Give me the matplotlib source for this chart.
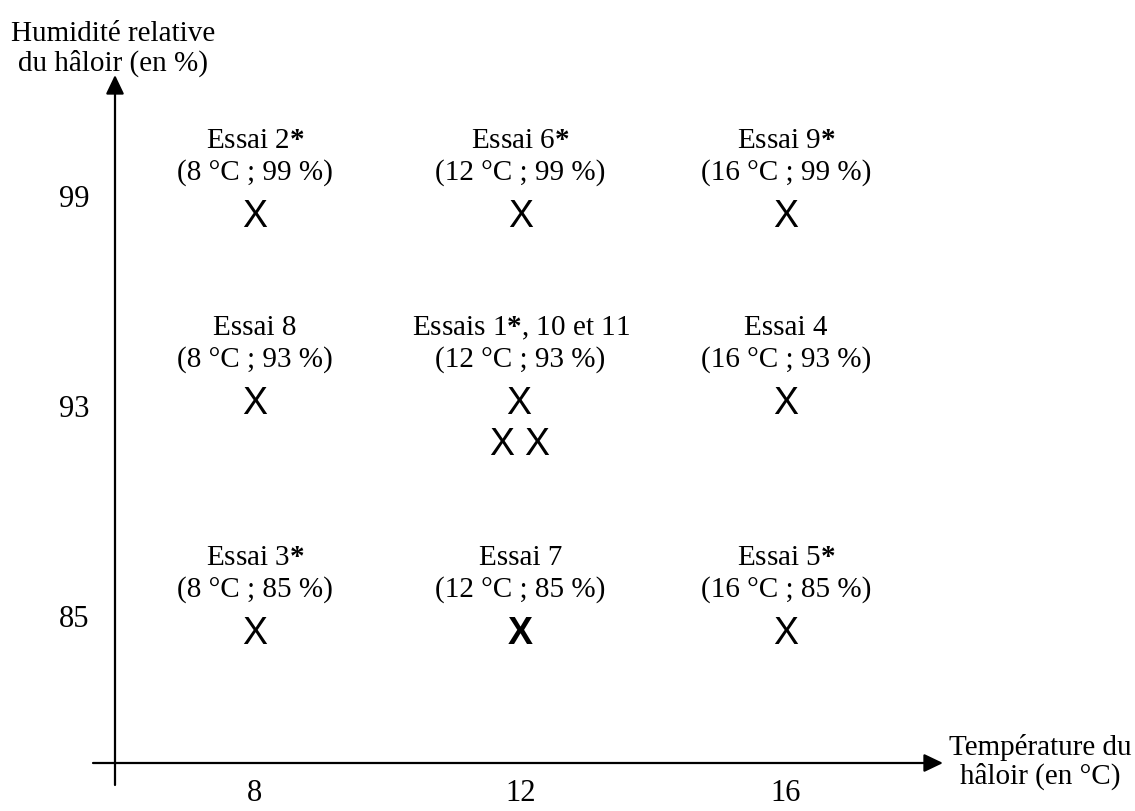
import matplotlib
matplotlib.use("Agg")
import matplotlib.pyplot as plt

# ---- data ----
temperatures = [8, 12, 16]            # °C levels (x axis)
humidities = [85, 93, 99]             # % levels (y axis)
trial_no = [1, 2, 3, 4, 5, 6, 7, 8, 9, 10, 11]
trial_T = [12, 8, 8, 16, 16, 12, 12, 8, 16, 12, 12]
trial_H = [93, 99, 85, 93, 85, 99, 85, 93, 99, 93, 93]
starred = [1, 2, 3, 5, 6, 9]
bold_marker_trials = [7]
x_title = "Température du\nhâloir (en °C)"
y_title = "Humidité relative\ndu hâloir (en %)"

# ---- style / layout ----
plt.rcParams["mathtext.fontset"] = "custom"
plt.rcParams["mathtext.rm"] = "Liberation Serif"
plt.rcParams["mathtext.bf"] = "Liberation Serif:bold"
SERIF = "Liberation Serif"
SANS = "Liberation Sans"
FS = 21
FS_TICK = 22
FS_X = 27
W, H = 1135, 812

fig = plt.figure(figsize=(W / 100, H / 100), dpi=100)
ax = fig.add_axes([0, 0, 1, 1])
ax.axis("off")
# scale: 8 °C -> px 255, 16 °C -> px 786 ; row index spacing 210 px
x0px, pxdeg = 255, (786 - 255) / 8
ax.set_xlim(8 - x0px / pxdeg, 8 + (W - x0px) / pxdeg)
y0px, pxrow = 620, 210
ax.set_ylim(-(H - y0px) / pxrow, y0px / pxrow)

def fp(x, y):  # figure pixels from top-left coordinates
    return (x, H - y)

# axes with arrows
arrow = dict(arrowstyle="-|>,head_length=1.15,head_width=0.55", mutation_scale=10,
             color="black", lw=1.6, shrinkA=0, shrinkB=0)
ax.annotate("", xy=fp(115, 76), xytext=fp(115, 786), xycoords="figure pixels",
            textcoords="figure pixels", arrowprops=arrow)
ax.annotate("", xy=fp(943, 764), xytext=fp(93, 764), xycoords="figure pixels",
            textcoords="figure pixels", arrowprops=arrow)

# axis titles
ax.annotate(y_title, xy=fp(113, 49), xycoords="figure pixels", ha="center", va="center",
            fontsize=FS, family=SERIF, linespacing=1.1)
ax.annotate(x_title, xy=fp(1040, 762), xycoords="figure pixels", ha="center", va="center",
            fontsize=FS, family=SERIF, linespacing=1.1)

# tick labels
for i, h in enumerate(humidities):
    ax.annotate(str(h), xy=(74, i), xycoords=("figure pixels", "data"), ha="center",
                va="center", fontsize=FS_TICK, family=SERIF)
for t in temperatures:
    ax.annotate(str(t), xy=(t, H - 794), xycoords=("data", "figure pixels"), ha="center",
                va="center", fontsize=FS_TICK, family=SERIF)

# per-row vertical pixel shift of the cells (positive = down)
row_shift = {85: 10, 93: -10, 99: 13}

def star(n):
    return f"{n}$\\mathbf{{*}}$" if n in starred else f"{n}"

for t in temperatures:
    for h in humidities:
        nums = [n for n, tt, hh in zip(trial_no, trial_T, trial_H) if tt == t and hh == h]
        if not nums:
            continue
        yi = humidities.index(h)
        dy = -row_shift[h]
        if len(nums) == 1:
            line1 = "Essai " + star(nums[0])
            marks = [(0, 0, nums[0] in bold_marker_trials)]
        else:
            parts = [star(n) for n in nums]
            line1 = "Essais " + ", ".join(parts[:-1]) + " et " + parts[-1]
            marks = [(-2, 0, False), (-19, -41, False), (16, -41, False)]
        line2 = f"({t} °C ; {h} %)"
        ax.annotate(line1, xy=(t, yi), xytext=(0, dy + 72), textcoords="offset pixels",
                    ha="center", va="center", fontsize=FS, family=SERIF)
        ax.annotate(line2, xy=(t, yi), xytext=(0, dy + 40), textcoords="offset pixels",
                    ha="center", va="center", fontsize=FS, family=SERIF)
        for mx, my, b in marks:
            ax.annotate("X", xy=(t, yi), xytext=(mx, dy + my), textcoords="offset pixels",
                        ha="center", va="center_baseline", fontsize=FS_X, family=SANS,
                        fontweight="bold" if b else "normal")

fig.savefig("out.png", dpi=100)
